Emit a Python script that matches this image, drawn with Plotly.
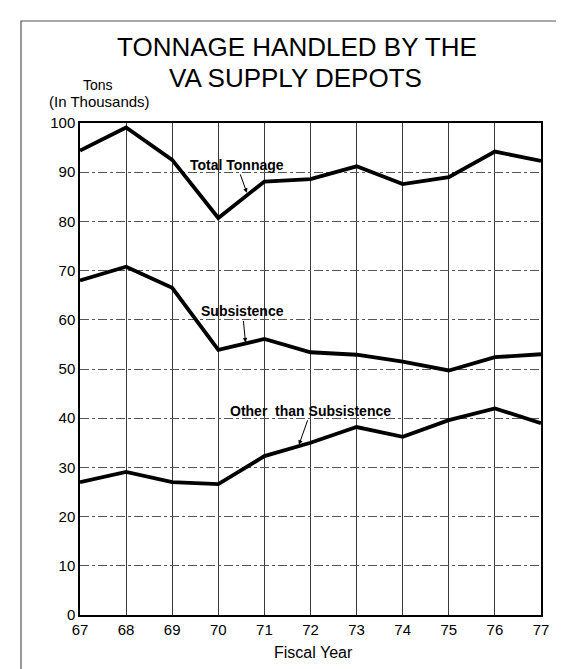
import plotly.graph_objects as go

years = [67, 68, 69, 70, 71, 72, 73, 74, 75, 76, 77]
total = [94.4, 99.1, 92.5, 80.7, 88.1, 88.6, 91.2, 87.6, 89.0, 94.2, 92.3]
subsistence = [68.0, 70.8, 66.5, 53.9, 56.1, 53.4, 52.9, 51.5, 49.7, 52.4, 53.0]
other = [27.0, 29.1, 27.0, 26.6, 32.3, 35.0, 38.2, 36.2, 39.6, 42.0, 39.0]
y_ticks = list(range(0, 101, 10))

font = "Liberation Sans, Arial, sans-serif"
W, H = 564, 669
L, R, T, B = 72, 31, 115, 62
PW, PH = W - L - R, H - T - B


def px(x):
    return (x - L) / PW


def py(y):
    return (H - B - y) / PH


fig = go.Figure()
for vals in (total, subsistence, other):
    fig.add_trace(go.Scatter(x=years, y=vals, mode="lines",
                             line=dict(color="black", width=3.8),
                             showlegend=False, hoverinfo="skip"))

fig.update_layout(
    width=W, height=H,
    margin=dict(l=L, r=R, t=T, b=B),
    paper_bgcolor="white", plot_bgcolor="white",
    font=dict(family=font, color="black"),
    xaxis=dict(range=[67, 77], tickvals=years, ticktext=[str(y) for y in years],
               showgrid=True, gridcolor="#3a3a3a", gridwidth=1,
               showline=True, linecolor="black", linewidth=1.5, mirror=True,
               ticks="", zeroline=False, tickfont=dict(size=15), automargin=False),
    yaxis=dict(range=[0, 100], tickvals=y_ticks, showgrid=True,
               gridcolor="#555555", gridwidth=1, griddash="dashdot",
               showline=True, linecolor="black", linewidth=1.5, mirror=True,
               ticks="", zeroline=False, tickfont=dict(size=15), automargin=False),
)

plain = dict(xref="paper", yref="paper", showarrow=False,
             xanchor="center", yanchor="middle", borderpad=0)
fig.add_annotation(text="TONNAGE HANDLED BY THE", x=px(289), y=py(39),
                   font=dict(size=26), **plain)
fig.add_annotation(text="VA SUPPLY DEPOTS", x=px(287), y=py(70),
                   font=dict(size=26), **plain)
fig.add_annotation(text="Tons", x=px(90), y=py(77), font=dict(size=14), **plain)
fig.add_annotation(text="(In Thousands)", x=px(91), y=py(94), font=dict(size=15), **plain)
fig.add_annotation(text="Fiscal Year", x=px(305), y=py(644), font=dict(size=16), **plain)

ann = dict(showarrow=True, arrowhead=2, arrowsize=0.9, arrowwidth=1,
           arrowcolor="black", font=dict(size=14, family=font, color="black"))
fig.add_annotation(text="<b>Total Tonnage</b>", x=70.62, y=85.8, ax=-10, ay=-28, **ann)
fig.add_annotation(text="<b>Subsistence</b>", x=70.59, y=55.4, ax=-3, ay=-31, **ann)
fig.add_annotation(text="<b>Other  than Subsistence</b>", x=71.75, y=34.6, ax=12, ay=-34, **ann)

# outer frame
fig.add_shape(type="rect", xref="paper", yref="paper",
              x0=px(13), x1=px(560), y0=py(690), y1=py(13),
              line=dict(color="#555555", width=1.2))

fig.write_html("out.html")
